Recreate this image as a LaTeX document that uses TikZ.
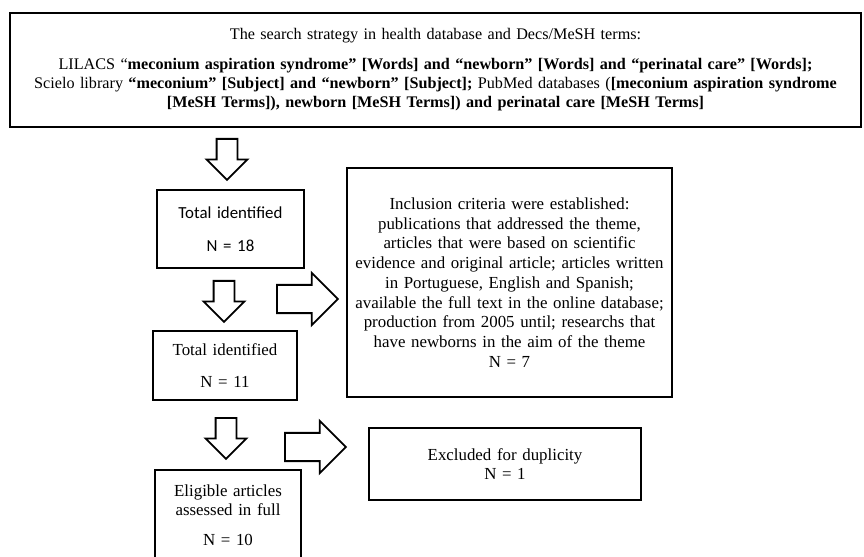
\documentclass[tikz,border=0pt]{standalone}
\usepackage{fontspec}
\setmainfont{Liberation Serif}
\newfontfamily\calfont{Carlito}
\usetikzlibrary{shapes.arrows}

\begin{document}
\begin{tikzpicture}[
  search/.style={draw, line width=2pt, align=center, inner sep=0pt, text width=21.275cm, minimum height=2.85cm, font=\fontsize{11.5}{13.5}\selectfont},
  stage/.style={draw, line width=1.5pt, align=center, inner sep=0pt, font=\fontsize{12}{14}\selectfont},
  blk/.style={single arrow, draw, fill=white, line width=1.3pt, inner xsep=0pt, single arrow tip angle=90, anchor=tail},
  darrow/.style={blk, rotate=-90, inner ysep=0.2375cm, minimum height=1.025cm, single arrow head extend=0.25cm},
  rarrow/.style={blk, inner ysep=0.33cm, minimum height=1.525cm, single arrow head extend=0.3cm}
]
  \useasboundingbox (0,0) rectangle (21.6,-13.925);

  \node[search] (strategy) at (10.8875,-1.75) {The search strategy in health database and Decs/MeSH terms:\\[0.28cm]
    LILACS ``\textbf{meconium aspiration syndrome'' [Words] and ``newborn'' [Words] and ``perinatal care'' [Words];}\\
    Scielo library \textbf{``meconium'' [Subject] and ``newborn'' [Subject];} PubMed databases (\textbf{[meconium aspiration syndrome}\\
    \textbf{[MeSH Terms]), newborn [MeSH Terms]) and perinatal care [MeSH Terms]}};

  \node[stage, text width=3.675cm, minimum height=1.95cm] (total1) at (5.7625,-5.725) {\calfont Total identified\\[0.32cm]\calfont N = 18};
  \node[stage, text width=3.6cm, minimum height=1.725cm] (total2) at (5.625,-9.1375) {Total identified\\[0.3cm]N = 11};
  \node[stage, text width=8.125cm, minimum height=5.725cm] (criteria) at (12.7375,-7.0625) {Inclusion criteria were established:\\
    publications that addressed the theme,\\
    articles that were based on scientific\\
    evidence and original article; articles written\\
    in Portuguese, English and Spanish;\\
    available the full text in the online database;\\
    production from 2005 until; researchs that\\
    have newborns in the aim of the theme\\
    N = 7};
  \node[stage, text width=6.8cm, minimum height=1.8cm] (excluded) at (12.625,-11.6) {Excluded for duplicity\\N = 1};
  \node[stage, text width=3.65cm, minimum height=2.25cm] (eligible) at (5.7,-12.875) {Eligible articles\\assessed in full\\[0.24cm]N = 10};

  \node[darrow] (down1) at (5.675,-3.45) {};
  \node[darrow] (down2) at (5.6,-7.0) {};
  \node[darrow] (down3) at (5.65,-10.425) {};
  \node[rarrow] (right1) at (6.9,-7.475) {};
  \node[rarrow] (right2) at (7.1,-11.175) {};
\end{tikzpicture}
\end{document}
